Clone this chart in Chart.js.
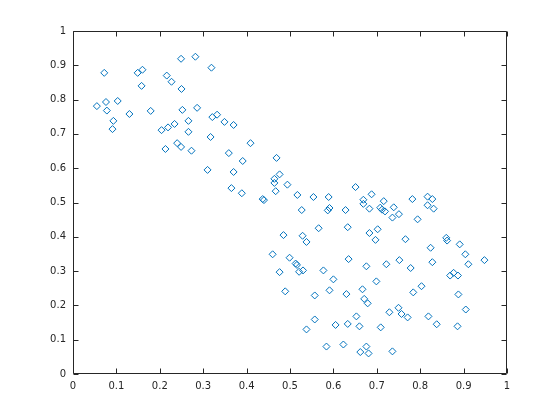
<!DOCTYPE html>
<html>
<head>
<meta charset="utf-8">
<script src="https://cdn.jsdelivr.net/npm/chart.js@4.4.1/dist/chart.umd.min.js"></script>
<style>
  html, body { margin: 0; padding: 0; background: #fff; }
</style>
</head>
<body>
<canvas id="scatterChart" width="560" height="420"></canvas>
<script>
// valores
const xVals = [0.072, 0.055, 0.076, 0.078, 0.103, 0.093, 0.091, 0.130, 0.149, 0.160,
  0.158, 0.179, 0.216, 0.227, 0.250, 0.249, 0.282, 0.252, 0.286, 0.204,
  0.219, 0.234, 0.266, 0.266, 0.240, 0.249, 0.213, 0.273, 0.319, 0.321,
  0.332, 0.349, 0.370, 0.317, 0.409, 0.359, 0.391, 0.469, 0.310, 0.370,
  0.476, 0.464, 0.464, 0.494, 0.365, 0.389, 0.467, 0.517, 0.437, 0.440,
  0.527, 0.485, 0.529, 0.538, 0.460, 0.499, 0.554, 0.589, 0.651, 0.688,
  0.669, 0.669, 0.683, 0.716, 0.708, 0.712, 0.719, 0.739, 0.736, 0.751,
  0.587, 0.591, 0.628, 0.566, 0.633, 0.683, 0.702, 0.697, 0.513, 0.516,
  0.635, 0.676, 0.722, 0.752, 0.476, 0.521, 0.530, 0.577, 0.600, 0.699,
  0.489, 0.557, 0.591, 0.630, 0.667, 0.671, 0.679, 0.750, 0.729, 0.557,
  0.538, 0.605, 0.633, 0.653, 0.660, 0.709, 0.584, 0.623, 0.676, 0.662,
  0.681, 0.736, 0.782, 0.817, 0.828, 0.817, 0.831, 0.794, 0.766, 0.824,
  0.860, 0.862, 0.891, 0.904, 0.828, 0.778, 0.911, 0.948, 0.869, 0.877,
  0.887, 0.803, 0.784, 0.888, 0.757, 0.771, 0.905, 0.819, 0.838, 0.886];
const yVals = [0.878, 0.781, 0.793, 0.768, 0.796, 0.738, 0.714, 0.758, 0.878, 0.887,
  0.840, 0.767, 0.870, 0.852, 0.831, 0.919, 0.925, 0.770, 0.776, 0.711,
  0.719, 0.729, 0.738, 0.706, 0.673, 0.662, 0.656, 0.651, 0.893, 0.749,
  0.756, 0.735, 0.726, 0.691, 0.673, 0.644, 0.621, 0.630, 0.595, 0.589,
  0.582, 0.569, 0.557, 0.552, 0.542, 0.527, 0.533, 0.522, 0.510, 0.507,
  0.478, 0.405, 0.403, 0.385, 0.349, 0.339, 0.516, 0.516, 0.545, 0.524,
  0.508, 0.496, 0.482, 0.504, 0.485, 0.479, 0.474, 0.486, 0.456, 0.466,
  0.477, 0.484, 0.478, 0.425, 0.428, 0.411, 0.422, 0.391, 0.322, 0.318,
  0.335, 0.314, 0.320, 0.332, 0.297, 0.298, 0.302, 0.302, 0.276, 0.270,
  0.241, 0.229, 0.244, 0.233, 0.247, 0.219, 0.206, 0.193, 0.180, 0.159,
  0.130, 0.143, 0.146, 0.168, 0.139, 0.136, 0.080, 0.086, 0.080, 0.064,
  0.060, 0.066, 0.510, 0.517, 0.510, 0.492, 0.482, 0.451, 0.393, 0.368,
  0.397, 0.389, 0.378, 0.349, 0.326, 0.309, 0.320, 0.332, 0.287, 0.295,
  0.287, 0.256, 0.238, 0.232, 0.175, 0.165, 0.188, 0.168, 0.145, 0.139];
const xTicks = [0, 0.1, 0.2, 0.3, 0.4, 0.5, 0.6, 0.7, 0.8, 0.9, 1];
const yTicks = [0, 0.1, 0.2, 0.3, 0.4, 0.5, 0.6, 0.7, 0.8, 0.9, 1];

const axisColor = '#262626';
const puntos = xVals.map((x, i) => ({ x: x, y: yVals[i] }));

// caja completa con marcas hacia dentro (estilo MATLAB)
const cajaEjes = {
  id: 'cajaEjes',
  afterDraw(chart) {
    const { ctx, chartArea: a, scales } = chart;
    const L = Math.round(a.left) + 0.5, R = Math.round(a.right) - 0.5;
    const T = Math.round(a.top) + 0.5, B = Math.round(a.bottom) - 0.5;
    const len = 5;
    ctx.save();
    ctx.strokeStyle = axisColor;
    ctx.lineWidth = 1;
    ctx.beginPath();
    ctx.rect(L, T, R - L, B - T);
    scales.x.ticks.forEach(t => {
      const px = Math.round(scales.x.getPixelForValue(t.value)) + 0.5;
      ctx.moveTo(px, B); ctx.lineTo(px, B - len);
      ctx.moveTo(px, T); ctx.lineTo(px, T + len);
    });
    scales.y.ticks.forEach(t => {
      const py = Math.round(scales.y.getPixelForValue(t.value)) + 0.5;
      ctx.moveTo(L, py); ctx.lineTo(L + len, py);
      ctx.moveTo(R, py); ctx.lineTo(R - len, py);
    });
    ctx.stroke();
    ctx.restore();
  }
};

const fmt = v => String(+(+v).toFixed(1));

const chart = new Chart(document.getElementById('scatterChart').getContext('2d'), {
  type: 'scatter',
  data: {
    datasets: [{
      data: puntos,
      pointStyle: 'rectRot',
      pointRadius: 3.5,
      pointBorderWidth: 1,
      borderColor: '#0072BD',
      backgroundColor: 'rgba(0,0,0,0)'
    }]
  },
  options: {
    responsive: false,
    animation: false,
    devicePixelRatio: 1,
    layout: { padding: { left: 0, right: 53, top: 31, bottom: 0 } },
    plugins: { legend: { display: false }, tooltip: { enabled: false } },
    scales: {
      x: {
        type: 'linear', min: 0, max: 1,
        afterBuildTicks: s => { s.ticks = xTicks.map(v => ({ value: v })); },
        afterFit: s => { s.height = 46; },
        grid: { display: false, drawTicks: false },
        border: { display: false },
        ticks: { color: axisColor, padding: 6, maxRotation: 0, autoSkip: false,
          font: { family: 'DejaVu Sans', size: 10 }, callback: fmt }
      },
      y: {
        type: 'linear', min: 0, max: 1,
        afterBuildTicks: s => { s.ticks = yTicks.map(v => ({ value: v })); },
        afterFit: s => { s.width = 73; },
        grid: { display: false, drawTicks: false },
        border: { display: false },
        ticks: { color: axisColor, padding: 7, autoSkip: false,
          font: { family: 'DejaVu Sans', size: 10 }, callback: fmt }
      }
    }
  },
  plugins: [cajaEjes]
});
</script>
</body>
</html>
